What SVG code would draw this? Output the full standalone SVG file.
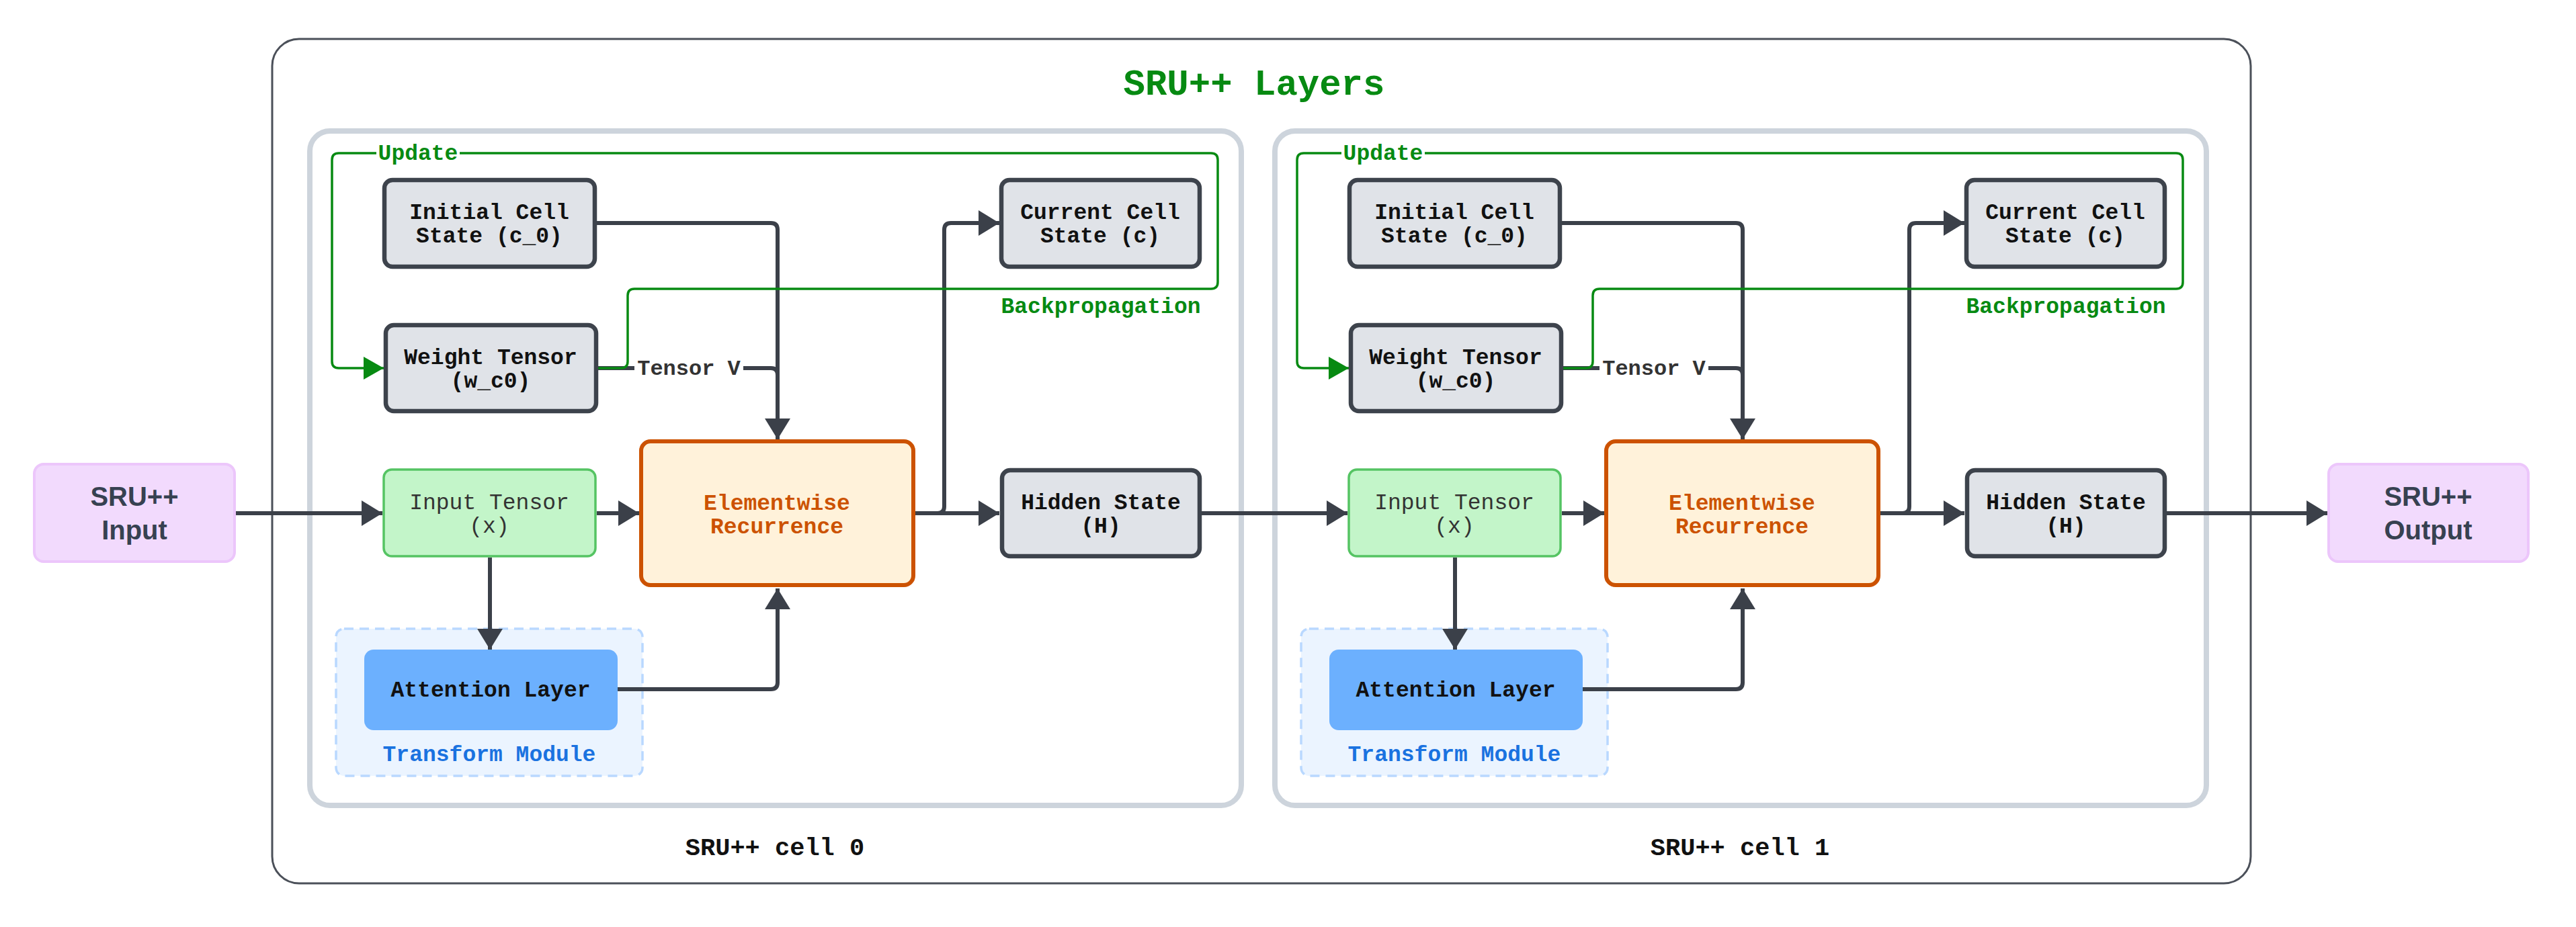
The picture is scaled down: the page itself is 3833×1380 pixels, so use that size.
<svg xmlns="http://www.w3.org/2000/svg" width="3833" height="1380" viewBox="0 0 3833 1380">
<style>
.mono{font-family:"Liberation Mono","DejaVu Sans Mono",monospace;}
.sans{font-family:"Liberation Sans",Arial,sans-serif;}
.lbl{font-size:33px;font-weight:bold;text-anchor:middle;dominant-baseline:central;fill:#111;}
.gray{fill:#e0e3e8;stroke:#3d434c;stroke-width:6.5;}
.inp{fill:#c3f5c9;stroke:#55c463;stroke-width:3.5;}
.elem{fill:#fff2da;stroke:#cc5200;stroke-width:6;}
.att{fill:#6cb0fe;}
.tm{fill:#ebf4ff;stroke:#b9d8ff;stroke-width:3.5;stroke-dasharray:14 9;}
.io{fill:#f2dafd;stroke:#ecc6fb;stroke-width:4;}
.cell{fill:none;stroke:#cdd4dc;stroke-width:8;}
.c{fill:none;stroke:#3b4049;stroke-width:6;}
.g{fill:none;stroke:#078a12;stroke-width:3.5;}
.gt{font-size:33px;font-weight:bold;text-anchor:middle;dominant-baseline:central;fill:#078a12;}
.tv{font-size:32px;font-weight:bold;text-anchor:middle;dominant-baseline:central;fill:#333;}
</style>
<defs>
<marker id="ah" markerWidth="32" markerHeight="40" refX="31" refY="19" orient="auto" markerUnits="userSpaceOnUse"><path d="M0,0 L31,19 L0,38 z" fill="#3b4049"/></marker>
<marker id="gah" markerWidth="32" markerHeight="36" refX="30" refY="17" orient="auto" markerUnits="userSpaceOnUse"><path d="M0,0 L30,17 L0,34 z" fill="#078a12"/></marker>
</defs>
<rect width="3833" height="1380" fill="#fff"/>

<g id="outer">
<rect x="405" y="58" width="2944" height="1257" rx="40" fill="#fff" stroke="#4b5059" stroke-width="3"/>
<text class="mono" x="1866" y="126" font-size="54" font-weight="bold" text-anchor="middle" dominant-baseline="central" fill="#078a12">SRU++ Layers</text>
</g>

<g id="cell0">
<rect class="cell" x="461" y="195" width="1386" height="1004" rx="30"/>
<text class="mono lbl" x="1153" y="1263" style="font-size:37px">SRU++ cell 0</text>
</g>
<g id="cell1" transform="translate(1436,0)">
<rect class="cell" x="461" y="195" width="1386" height="1004" rx="30"/>
<text class="mono lbl" x="1153" y="1263" style="font-size:37px">SRU++ cell 1</text>
</g>

<g id="sru-input">
<rect class="io" x="51" y="691" width="298" height="145" rx="14"/>
<text class="sans" x="200" y="753" font-size="40" font-weight="bold" text-anchor="middle" fill="#374151">SRU++</text>
<text class="sans" x="200" y="803" font-size="40" font-weight="bold" text-anchor="middle" fill="#374151">Input</text>
</g>
<g id="sru-output">
<rect class="io" x="3465" y="691" width="297" height="145" rx="14"/>
<text class="sans" x="3613" y="753" font-size="40" font-weight="bold" text-anchor="middle" fill="#374151">SRU++</text>
<text class="sans" x="3613" y="803" font-size="40" font-weight="bold" text-anchor="middle" fill="#374151">Output</text>
</g>

<g id="c0-transform">
<rect class="tm" x="500" y="936" width="456" height="219" rx="12"/>
<text class="mono" x="728" y="1124" font-size="33" font-weight="bold" text-anchor="middle" dominant-baseline="central" fill="#1a72e0">Transform Module</text>
</g>
<g id="c1-transform" transform="translate(1436,0)">
<rect class="tm" x="500" y="936" width="456" height="219" rx="12"/>
<text class="mono" x="728" y="1124" font-size="33" font-weight="bold" text-anchor="middle" dominant-baseline="central" fill="#1a72e0">Transform Module</text>
</g>

<g id="connectors">
<path class="c" d="M351,764 H569" marker-end="url(#ah)"/>
<path class="c" d="M1788,764 H2005" marker-end="url(#ah)"/>
<path class="c" d="M3224,764 H3463" marker-end="url(#ah)"/>
<g id="c0-conn">
<path class="c" d="M888,764 H951" marker-end="url(#ah)"/>
<path class="c" d="M729,830 V967" marker-end="url(#ah)"/>
<path class="c" d="M919,1026 H1147 Q1157,1026 1157,1016 V876" marker-end="url(#ah)"/>
<path class="c" d="M888,332 H1147 Q1157,332 1157,342 V654" marker-end="url(#ah)"/>
<path class="c" d="M890,548 H1147 Q1157,548 1157,558 V610"/>
<path class="c" d="M1362,764 H1487" marker-end="url(#ah)"/>
<path class="c" d="M1362,764 H1395 Q1405,764 1405,754 V342 Q1405,332 1415,332 H1487" marker-end="url(#ah)"/>
<path class="g" d="M890,548 H924 Q934,548 934,538 V440 Q934,430 944,430 H1802 Q1812,430 1812,420 V238 Q1812,228 1802,228 H504 Q494,228 494,238 V538 Q494,548 504,548 H571" marker-end="url(#gah)"/>
<rect x="560" y="210" width="124" height="36" fill="#fff"/>
<text class="mono gt" x="622" y="229">Update</text>
<text class="mono gt" x="1638" y="457">Backpropagation</text>
<rect x="944" y="530" width="162" height="36" fill="#fff"/>
<text class="mono tv" x="1025" y="549">Tensor V</text>
</g>
<g id="c1-conn" transform="translate(1436,0)">
<path class="c" d="M888,764 H951" marker-end="url(#ah)"/>
<path class="c" d="M729,830 V967" marker-end="url(#ah)"/>
<path class="c" d="M919,1026 H1147 Q1157,1026 1157,1016 V876" marker-end="url(#ah)"/>
<path class="c" d="M888,332 H1147 Q1157,332 1157,342 V654" marker-end="url(#ah)"/>
<path class="c" d="M890,548 H1147 Q1157,548 1157,558 V610"/>
<path class="c" d="M1362,764 H1487" marker-end="url(#ah)"/>
<path class="c" d="M1362,764 H1395 Q1405,764 1405,754 V342 Q1405,332 1415,332 H1487" marker-end="url(#ah)"/>
<path class="g" d="M890,548 H924 Q934,548 934,538 V440 Q934,430 944,430 H1802 Q1812,430 1812,420 V238 Q1812,228 1802,228 H504 Q494,228 494,238 V538 Q494,548 504,548 H571" marker-end="url(#gah)"/>
<rect x="560" y="210" width="124" height="36" fill="#fff"/>
<text class="mono gt" x="622" y="229">Update</text>
<text class="mono gt" x="1638" y="457">Backpropagation</text>
<rect x="944" y="530" width="162" height="36" fill="#fff"/>
<text class="mono tv" x="1025" y="549">Tensor V</text>
</g>
</g>

<g id="c0-initial"><rect class="gray" x="572" y="268" width="313" height="129" rx="12"/>
<text class="mono lbl" x="728" y="317">Initial Cell</text><text class="mono lbl" x="728" y="352">State (c_0)</text></g>
<g id="c0-weight"><rect class="gray" x="574" y="484" width="313" height="128" rx="12"/>
<text class="mono lbl" x="730" y="533">Weight Tensor</text><text class="mono lbl" x="730" y="568">(w_c0)</text></g>
<g id="c0-input"><rect class="inp" x="571" y="699" width="315" height="129" rx="12"/>
<text class="mono lbl" x="728" y="749" style="font-weight:normal;fill:#333">Input Tensor</text><text class="mono lbl" x="728" y="784" style="font-weight:normal;fill:#333">(x)</text></g>
<g id="c0-elem"><rect class="elem" x="954" y="657" width="405" height="214" rx="14"/>
<text class="mono lbl" x="1156" y="750" style="fill:#cc5200">Elementwise</text><text class="mono lbl" x="1156" y="785" style="fill:#cc5200">Recurrence</text></g>
<g id="c0-current"><rect class="gray" x="1490" y="268" width="295" height="129" rx="12"/>
<text class="mono lbl" x="1637" y="317">Current Cell</text><text class="mono lbl" x="1637" y="352">State (c)</text></g>
<g id="c0-hidden"><rect class="gray" x="1491" y="700" width="294" height="128" rx="12"/>
<text class="mono lbl" x="1638" y="749">Hidden State</text><text class="mono lbl" x="1638" y="784">(H)</text></g>
<g id="c0-attention"><rect class="att" x="542" y="967" width="377" height="120" rx="14"/>
<text class="mono lbl" x="730" y="1028">Attention Layer</text></g>

<g id="c1-initial" transform="translate(1436,0)"><rect class="gray" x="572" y="268" width="313" height="129" rx="12"/>
<text class="mono lbl" x="728" y="317">Initial Cell</text><text class="mono lbl" x="728" y="352">State (c_0)</text></g>
<g id="c1-weight" transform="translate(1436,0)"><rect class="gray" x="574" y="484" width="313" height="128" rx="12"/>
<text class="mono lbl" x="730" y="533">Weight Tensor</text><text class="mono lbl" x="730" y="568">(w_c0)</text></g>
<g id="c1-input" transform="translate(1436,0)"><rect class="inp" x="571" y="699" width="315" height="129" rx="12"/>
<text class="mono lbl" x="728" y="749" style="font-weight:normal;fill:#333">Input Tensor</text><text class="mono lbl" x="728" y="784" style="font-weight:normal;fill:#333">(x)</text></g>
<g id="c1-elem" transform="translate(1436,0)"><rect class="elem" x="954" y="657" width="405" height="214" rx="14"/>
<text class="mono lbl" x="1156" y="750" style="fill:#cc5200">Elementwise</text><text class="mono lbl" x="1156" y="785" style="fill:#cc5200">Recurrence</text></g>
<g id="c1-current" transform="translate(1436,0)"><rect class="gray" x="1490" y="268" width="295" height="129" rx="12"/>
<text class="mono lbl" x="1637" y="317">Current Cell</text><text class="mono lbl" x="1637" y="352">State (c)</text></g>
<g id="c1-hidden" transform="translate(1436,0)"><rect class="gray" x="1491" y="700" width="294" height="128" rx="12"/>
<text class="mono lbl" x="1638" y="749">Hidden State</text><text class="mono lbl" x="1638" y="784">(H)</text></g>
<g id="c1-attention" transform="translate(1436,0)"><rect class="att" x="542" y="967" width="377" height="120" rx="14"/>
<text class="mono lbl" x="730" y="1028">Attention Layer</text></g>
</svg>
